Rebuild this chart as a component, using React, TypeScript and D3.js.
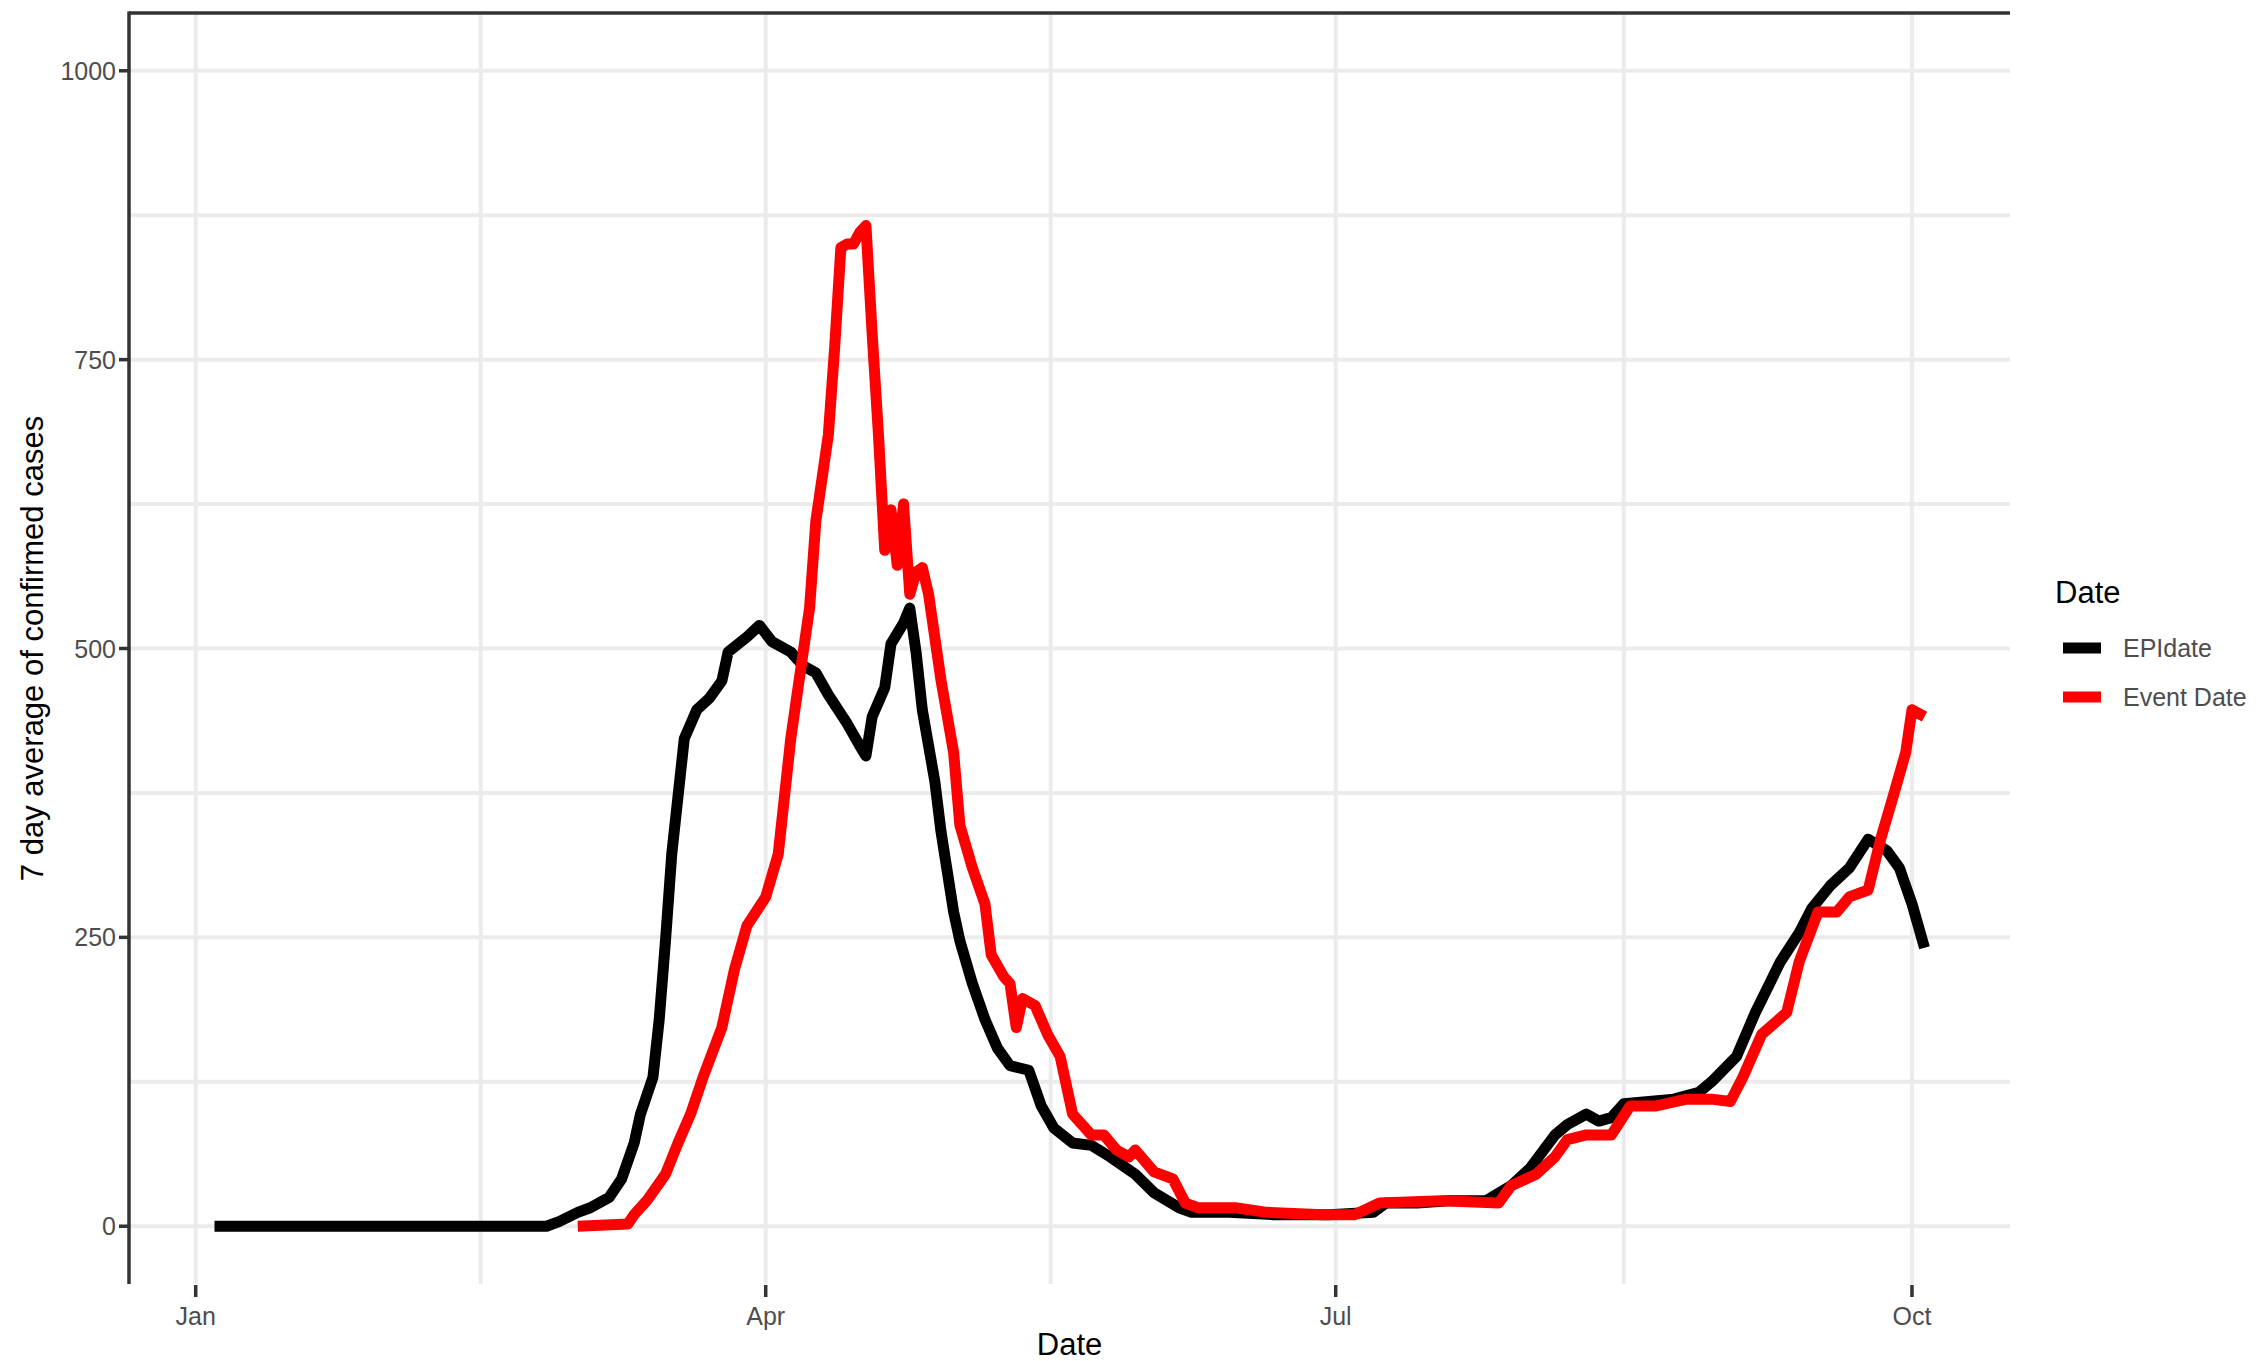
import React from "react";
import * as d3 from "d3";

const epiDates = [
  "2020-01-04","2020-02-26","2020-02-28","2020-03-02","2020-03-04","2020-03-07","2020-03-09","2020-03-11",
  "2020-03-12","2020-03-14","2020-03-15","2020-03-16","2020-03-17","2020-03-19","2020-03-21","2020-03-23",
  "2020-03-25","2020-03-26","2020-03-29","2020-03-31","2020-04-02","2020-04-05","2020-04-07","2020-04-09",
  "2020-04-11","2020-04-14","2020-04-16","2020-04-17","2020-04-18","2020-04-20","2020-04-21","2020-04-23",
  "2020-04-24","2020-04-25","2020-04-26","2020-04-28","2020-04-29","2020-05-01","2020-05-02","2020-05-04",
  "2020-05-06","2020-05-08","2020-05-10","2020-05-13","2020-05-15","2020-05-17","2020-05-20","2020-05-23",
  "2020-05-26","2020-05-30","2020-06-02","2020-06-06","2020-06-08","2020-06-14","2020-06-21","2020-06-30",
  "2020-07-07","2020-07-09","2020-07-14","2020-07-19","2020-07-25","2020-07-29","2020-08-01","2020-08-05",
  "2020-08-07","2020-08-10","2020-08-12","2020-08-14","2020-08-16","2020-08-20","2020-08-24","2020-08-28",
  "2020-08-30","2020-09-03","2020-09-06","2020-09-10","2020-09-13","2020-09-15","2020-09-18","2020-09-21",
  "2020-09-24","2020-09-27","2020-09-29","2020-10-01","2020-10-03"
];
const epiValues = [
  0, 0, 4, 12, 16, 25, 41, 72,
  97, 129, 179, 247, 322, 422, 447, 457,
  472, 497, 510, 520, 506, 497, 485, 479,
  460, 435, 416, 407, 441, 466, 504, 522,
  535, 497, 447, 385, 341, 272, 247, 210,
  179, 154, 139, 135, 104, 85, 72, 70,
  60, 45, 29, 16, 12, 12, 10, 10,
  12, 20, 20, 22, 22, 35, 50, 79,
  88, 97, 91, 94, 106, 108, 110, 116,
  125, 147, 185, 229, 254, 275, 295, 310,
  335, 325, 310, 279, 241
];

const eventDates = [
  "2020-03-02","2020-03-10","2020-03-11","2020-03-13","2020-03-16","2020-03-18","2020-03-20","2020-03-22",
  "2020-03-25","2020-03-27","2020-03-29","2020-04-01","2020-04-03","2020-04-04","2020-04-05","2020-04-06",
  "2020-04-08","2020-04-09","2020-04-11","2020-04-12","2020-04-13","2020-04-14","2020-04-15","2020-04-16",
  "2020-04-17","2020-04-18","2020-04-19","2020-04-20","2020-04-21","2020-04-22","2020-04-23","2020-04-24",
  "2020-04-25","2020-04-26","2020-04-27","2020-04-29","2020-05-01","2020-05-02","2020-05-04","2020-05-06",
  "2020-05-07","2020-05-09","2020-05-10","2020-05-11","2020-05-12","2020-05-14","2020-05-16","2020-05-18",
  "2020-05-20","2020-05-23","2020-05-25","2020-05-27","2020-05-29","2020-05-30","2020-06-02","2020-06-05",
  "2020-06-07","2020-06-09","2020-06-15","2020-06-20","2020-06-29","2020-07-04","2020-07-08","2020-07-18",
  "2020-07-27","2020-07-29","2020-08-02","2020-08-05","2020-08-07","2020-08-10","2020-08-14","2020-08-17",
  "2020-08-21","2020-08-26","2020-08-30","2020-09-02","2020-09-04","2020-09-07","2020-09-11","2020-09-13",
  "2020-09-16","2020-09-19","2020-09-21","2020-09-24","2020-09-26","2020-09-28","2020-09-30","2020-10-01",
  "2020-10-03"
];
const eventValues = [
  0, 2, 10, 22, 45, 72, 97, 129,
  172, 222, 260, 285, 322, 372, 422, 460,
  535, 610, 685, 760, 847, 850, 850, 860,
  866, 772, 685, 585, 620, 572, 625, 547,
  566, 570, 547, 472, 410, 347, 310, 279,
  235, 216, 210, 172, 197, 191, 166, 147,
  97, 79, 79, 66, 60, 66, 47, 41,
  20, 16, 16, 12, 10, 10, 20, 22,
  20, 35, 45, 60, 75, 79, 79, 104,
  104, 110, 110, 108, 129, 166, 185, 229,
  272, 272, 285, 291, 335, 372, 410, 447,
  441
];

const seriesNames = ["EPIdate", "Event Date"];
const seriesColors = ["#000000", "#FF0000"];
const yTicks = [0, 250, 500, 750, 1000];
const yMinor = [125, 375, 625, 875];
const xTickDates = ["2020-01-01", "2020-04-01", "2020-07-01", "2020-10-01"];
const xTickLabels = ["Jan", "Apr", "Jul", "Oct"];
const yLimits = [0, 1000];

const W = 2267, H = 1361;
const PL = 129, PR = 2010, PT = 13, PB = 1284;
const FONT = "'Liberation Sans', Arial, sans-serif";

export default function App() {
  const parse = (s: string) => new Date(s + "T00:00:00Z");
  const epi = epiDates.map((d, i) => ({ d: parse(d), v: epiValues[i] }));
  const evt = eventDates.map((d, i) => ({ d: parse(d), v: eventValues[i] }));
  const allT = [...epi, ...evt].map((p) => +p.d);
  const t0 = d3.min(allT)!, t1 = d3.max(allT)!;
  const ex = (t1 - t0) * 0.05;
  const x = d3.scaleUtc().domain([new Date(t0 - ex), new Date(t1 + ex)]).range([PL, PR]);
  const yr = yLimits[1] - yLimits[0];
  const y = d3.scaleLinear().domain([yLimits[0] - 0.05 * yr, yLimits[1] + 0.05 * yr]).range([PB, PT]);
  const line = d3.line<{ d: Date; v: number }>().x((p) => x(p.d)).y((p) => y(p.v));
  const xt = xTickDates.map((s) => x(parse(s)));
  const xMinor = xt.slice(0, -1).map((v, i) => (v + xt[i + 1]) / 2);
  const grid = "#EBEBEB";
  const axis = "#333333";
  const txt = "#4D4D4D";
  return (
    <svg width={W} height={H} style={{ position: "absolute", left: 0, top: 0, background: "#fff" }}>
      <rect x={0} y={0} width={W} height={H} fill="#fff" />
      {yMinor.map((v) => (
        <line key={"ym" + v} x1={PL} x2={PR} y1={y(v)} y2={y(v)} stroke={grid} strokeWidth={4} />
      ))}
      {xMinor.map((v, i) => (
        <line key={"xm" + i} x1={v} x2={v} y1={PT} y2={PB} stroke={grid} strokeWidth={4} />
      ))}
      {yTicks.map((v) => (
        <line key={"yg" + v} x1={PL} x2={PR} y1={y(v)} y2={y(v)} stroke={grid} strokeWidth={4} />
      ))}
      {xt.map((v, i) => (
        <line key={"xg" + i} x1={v} x2={v} y1={PT} y2={PB} stroke={grid} strokeWidth={4} />
      ))}
      <path d={line(epi)!} fill="none" stroke={seriesColors[0]} strokeWidth={11} strokeLinejoin="round" />
      <path d={line(evt)!} fill="none" stroke={seriesColors[1]} strokeWidth={11} strokeLinejoin="round" />
      <line x1={PL} x2={PR} y1={PT} y2={PT} stroke={axis} strokeWidth={3.5} />
      <line x1={PL} x2={PL} y1={PT - 1.5} y2={PB} stroke={axis} strokeWidth={3.5} />
      {yTicks.map((v) => (
        <g key={"yt" + v}>
          <line x1={PL - 10} x2={PL} y1={y(v)} y2={y(v)} stroke={axis} strokeWidth={3.5} />
          <text x={PL - 13} y={y(v)} dy="0.36em" textAnchor="end" fontFamily={FONT} fontSize={25} fill={txt}>
            {v}
          </text>
        </g>
      ))}
      {xt.map((v, i) => (
        <g key={"xt" + i}>
          <line x1={v} x2={v} y1={PB + 1} y2={PB + 13} stroke={axis} strokeWidth={3.5} />
          <text x={v} y={1325} textAnchor="middle" fontFamily={FONT} fontSize={25} fill={txt}>
            {xTickLabels[i]}
          </text>
        </g>
      ))}
      <text x={(PL + PR) / 2} y={1355} textAnchor="middle" fontFamily={FONT} fontSize={31} fill="#000">
        Date
      </text>
      <text
        transform={`translate(43, ${(PT + PB) / 2}) rotate(-90)`}
        textAnchor="middle"
        fontFamily={FONT}
        fontSize={31}
        fill="#000"
      >
        7 day average of confirmed cases
      </text>
      <text x={2055} y={603} fontFamily={FONT} fontSize={31} fill="#000">
        Date
      </text>
      {seriesNames.map((n, i) => (
        <g key={n}>
          <line x1={2063} x2={2101} y1={648 + i * 49} y2={648 + i * 49} stroke={seriesColors[i]} strokeWidth={11} />
          <text x={2123} y={648 + i * 49} dy="0.36em" fontFamily={FONT} fontSize={25} fill={txt}>
            {n}
          </text>
        </g>
      ))}
    </svg>
  );
}
